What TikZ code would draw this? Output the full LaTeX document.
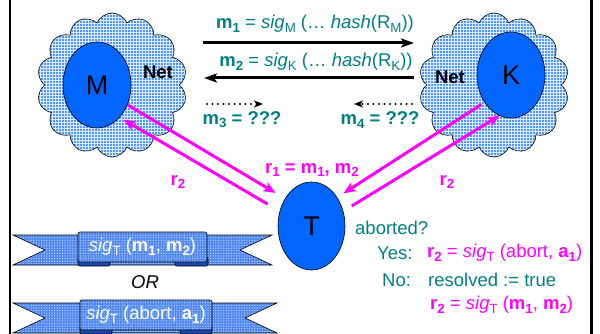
\documentclass[tikz,border=0pt]{standalone}
\usepackage{fontspec}
\setmainfont{Liberation Sans}
\usetikzlibrary{shapes.geometric,shapes.symbols,arrows.meta,patterns.meta}

\definecolor{msgteal}{RGB}{0,128,128}
\definecolor{respmag}{RGB}{255,0,255}
\definecolor{partyblue}{RGB}{0,102,255}
\definecolor{netdot}{RGB}{30,120,255}
\definecolor{netback}{RGB}{225,238,255}
\definecolor{banblue}{RGB}{80,135,240}
\definecolor{bandot}{RGB}{185,212,255}
\definecolor{foldblue}{RGB}{30,70,175}

% lowered, smaller subscript that keeps the current font shape/series
\newcommand\lo[1]{\raisebox{-0.33ex}{\scalebox{0.72}{#1}}}

\begin{document}
\begin{tikzpicture}[x=1pt,y=-1pt,
  txt/.style={font=\fontsize{18.5}{22}\selectfont, inner sep=0pt},
  netcloud/.style={cloud, cloud puffs=14, cloud puff arc=135, cloud ignores aspect,
    draw, line width=0.6pt, inner sep=0pt, preaction={fill=netback},
    pattern={Dots[radius=1.1pt,distance=3pt]}, pattern color=netdot},
  party/.style={ellipse, draw, line width=0.6pt, fill=partyblue, inner sep=0pt,
    minimum width=68pt, minimum height=86pt, font=\fontsize{27}{30}\selectfont},
  msg/.style={line width=3pt, -{Stealth[length=13pt,width=9pt,inset=3pt]}},
  unk/.style={line width=2.2pt, line cap=round, dash pattern=on 0pt off 5.5pt,
    -{Stealth[length=9pt,width=7pt,inset=2.5pt]}},
  resp/.style={line width=3pt, respmag, -{Stealth[length=12pt,width=10pt,inset=3pt]}},
  banfill/.style={draw, line width=0.6pt, preaction={fill=banblue},
    pattern={Dots[radius=0.7pt,distance=2.6pt]}, pattern color=bandot},
  banbox/.style={banfill, rounded corners=2pt, inner sep=0pt, text=white,
    font=\fontsize{18.5}{22}\selectfont},
  banfold/.style={draw, line width=0.6pt, fill=foldblue, rounded corners=2pt},
]
\useasboundingbox (0,0) rectangle (600,334);

% frame sides
\draw[line width=2pt] (9.5,0) -- (9.5,334);
\draw[line width=3pt] (591.5,0) -- (591.5,334);

% networks around the two parties
\node[netcloud, minimum width=150pt, minimum height=144pt] (cM) at (112,85) {};
\node[netcloud, minimum width=150pt, minimum height=144pt] (cK) at (494,85) {};
\node[txt, font=\fontsize{18.5}{22}\selectfont\bfseries] (netM) at (158,72) {Net};
\node[txt, font=\fontsize{18.5}{22}\selectfont\bfseries] (netK) at (450,77) {Net};

% parties
\node[party] (M) at (97,85) {M};
\node[party] (K) at (511,75) {K};
\node[party, minimum width=67pt, minimum height=88pt] (T) at (311.5,226) {T};

% exchange of the main protocol
\coordinate (m1a) at (203,43);  \coordinate (m1b) at (414,43);
\coordinate (m2a) at (414,78);  \coordinate (m2b) at (204,78);
\coordinate (m3a) at (207,104); \coordinate (m3b) at (263,104);
\coordinate (m4a) at (412,104); \coordinate (m4b) at (354,104);
\draw[msg] (m1a) -- (m1b);
\draw[msg] (m2a) -- (m2b);
\draw[unk] (m3a) -- (m3b);
\draw[unk] (m4a) -- (m4b);

\node[txt, text=msgteal] (m1) at (315,24)
  {\textbf{m\lo{1}} = \textit{sig}\lo{M} (\dots\ \textit{hash}(R\lo{M}))};
\node[txt, text=msgteal] (m2) at (316,62)
  {\textbf{m\lo{2}} = \textit{sig}\lo{K} (\dots\ \textit{hash}(R\lo{K}))};
\node[txt, text=msgteal, font=\fontsize{18.5}{22}\selectfont\bfseries] (m3) at (242,120) {m\lo{3} = ???};
\node[txt, text=msgteal, font=\fontsize{18.5}{22}\selectfont\bfseries] (m4) at (380,120) {m\lo{4} = ???};

% resolve requests and replies
\draw[resp, shorten >=11pt] (M.-33.7) -- (T.134.6);
\draw[resp, shorten <=14pt, shorten >=4.5pt] (T.155.8) -- (M.-55.2);
\draw[resp, shorten <=3.9pt, shorten >=7.5pt] (K.226) -- (T.48.1);
\draw[resp, shorten <=9.8pt] (T.25.1) -- (K.254.6);

\node[txt, text=respmag, font=\fontsize{18.5}{22}\selectfont\bfseries] (r1) at (312,170) {r\lo{1} = m\lo{1}, m\lo{2}};
\node[txt, text=respmag, font=\fontsize{18.5}{22}\selectfont\bfseries] (r2M) at (178,182) {r\lo{2}};
\node[txt, text=respmag, font=\fontsize{18.5}{22}\selectfont\bfseries] (r2K) at (447,182) {r\lo{2}};

% decision of T
\node[txt, text=msgteal, anchor=west] (ab) at (355,228) {aborted?};
\node[txt, text=msgteal, anchor=west] (yes) at (377,253) {Yes:};
\node[txt, text=respmag, anchor=west] (yesr) at (427,253)
  {\textbf{r\lo{2}} = \textit{sig}\lo{T} (abort, \textbf{a\lo{1}})};
\node[txt, text=msgteal, anchor=west] (no) at (382,280) {No:};
\node[txt, text=msgteal, anchor=west] (nor) at (428,280) {resolved := true};
\node[txt, text=respmag, anchor=west] (nor2) at (430,305)
  {\textbf{r\lo{2}} = \textit{sig}\lo{T} (\textbf{m\lo{1}}, \textbf{m\lo{2}})};

% first ribbon
\path[banfill] (13,235) -- (272,235) -- (240,250) -- (272,265) -- (13,265) -- (45,250) -- cycle;
\draw[banfold] (78,257) rectangle (110,266);
\draw[banfold] (175,257) rectangle (208,266);
\node[banbox, minimum width=129pt, minimum height=30pt] (b1) at (142.5,247)
  {\textit{sig}\lo{T} (\textbf{m\lo{1}}, \textbf{m\lo{2}})};

\node[txt, font=\fontsize{18.5}{22}\selectfont\itshape] (or) at (145,282) {OR};

% second ribbon
\path[banfill] (13,303) -- (277,303) -- (245,318) -- (277,333) -- (13,333) -- (45,318) -- cycle;
\draw[banfold] (80,325) rectangle (112,334);
\draw[banfold] (180,325) rectangle (212,334);
\node[banbox, minimum width=132pt, minimum height=30pt] (b2) at (146,315)
  {\textit{sig}\lo{T} (abort, \textbf{a\lo{1}})};
\end{tikzpicture}
\end{document}
